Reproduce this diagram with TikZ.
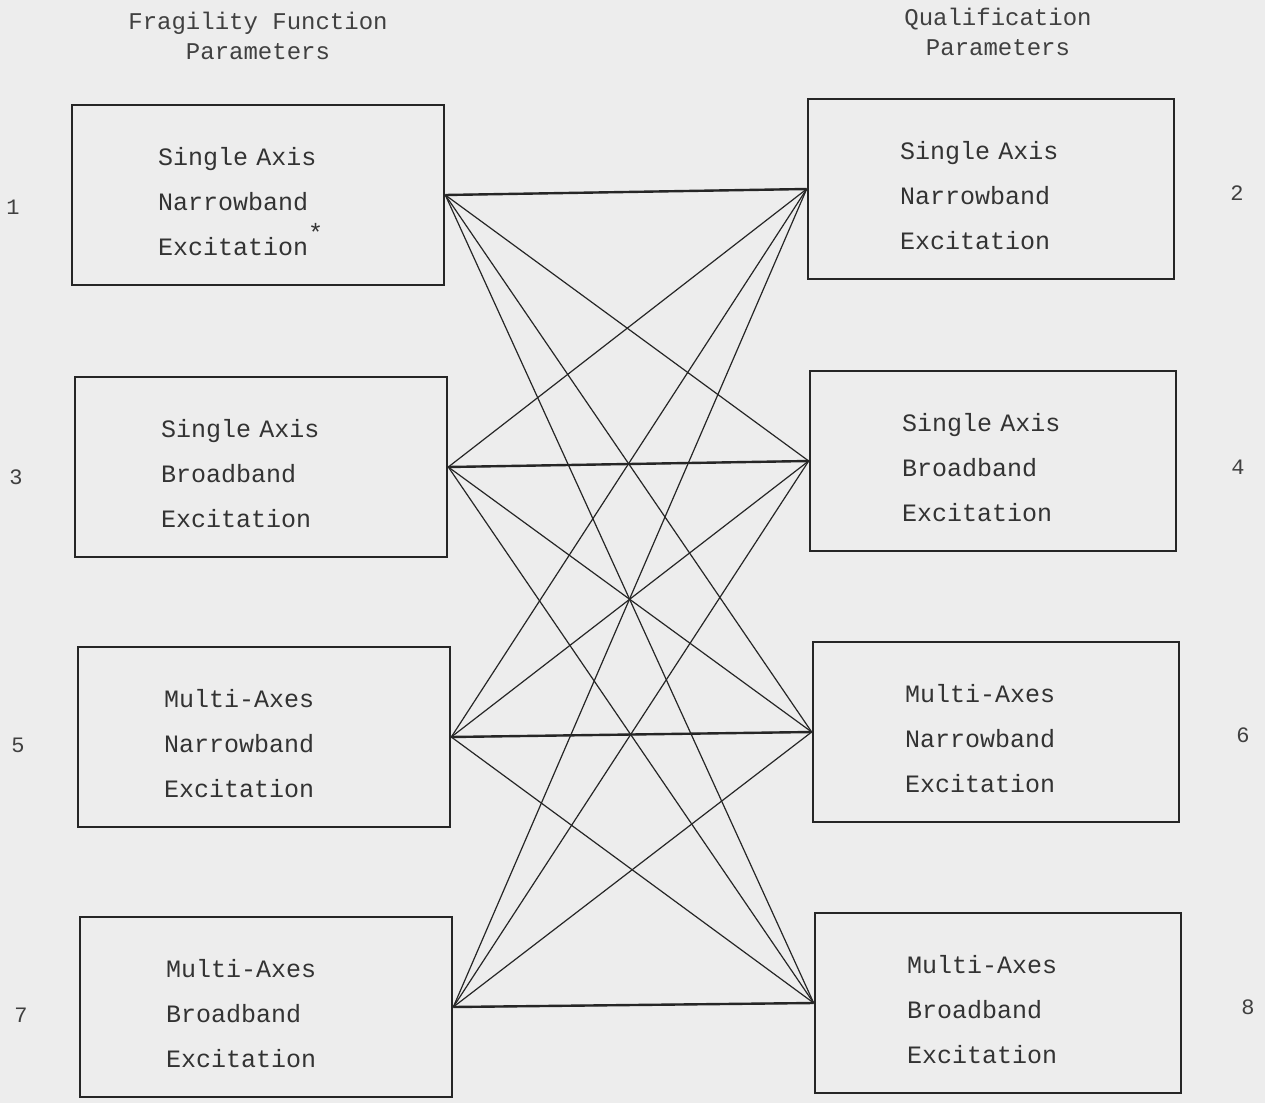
\documentclass[tikz,border=0pt]{standalone}
\usepackage{fontspec}
\setmonofont{Liberation Mono}
\newcommand{\bxstrut}{\rule{0pt}{16pt}}
\begin{document}
\begin{tikzpicture}[x=0.5pt,y=-0.5pt,
  box/.style={draw=black!85,line width=1.3pt,rectangle,minimum width=186pt,minimum height=90pt,
    text width=100pt,align=left,inner sep=0pt,text=black!80,
    font=\ttfamily\fontsize{12.5}{22.5}\selectfont},
  rbox/.style={box,minimum width=183pt,text width=91pt},
  lbl/.style={text=black!75,font=\ttfamily\fontsize{11}{13}\selectfont},
  hdr/.style={text=black!75,align=center,font=\ttfamily\fontsize{12}{15}\selectfont},
  hline/.style={draw=black!85,line width=1.2pt},
  dline/.style={draw=black!85,line width=0.6pt}]
\fill[black!7] (0,0) rectangle (1265,1103);
\useasboundingbox (0,0) rectangle (1265,1103);
% headers
\node[hdr] (hl) at (258,36) {Fragility Function\\Parameters};
\node[hdr] (hr) at (998,32) {Qualification\\Parameters};
% left boxes
\node[box] (b1) at (258,195) {\bxstrut Single Axis\\Narrowband\\Excitation\raisebox{7pt}{*}};
\node[box] (b3) at (261,467) {\bxstrut Single Axis\\Broadband\\Excitation};
\node[box] (b5) at (264,737) {\bxstrut Multi-Axes\\Narrowband\\Excitation};
\node[box] (b7) at (266,1007) {\bxstrut Multi-Axes\\Broadband\\Excitation};
% right boxes
\node[rbox] (b2) at (991,189) {\bxstrut Single Axis\\Narrowband\\Excitation};
\node[rbox] (b4) at (993,461) {\bxstrut Single Axis\\Broadband\\Excitation};
\node[rbox] (b6) at (996,732) {\bxstrut Multi-Axes\\Narrowband\\Excitation};
\node[rbox] (b8) at (998,1003) {\bxstrut Multi-Axes\\Broadband\\Excitation};
% numbers
\node[lbl] (n1) at (13,207) {1};
\node[lbl] (n3) at (16,477) {3};
\node[lbl] (n5) at (18,745) {5};
\node[lbl] (n7) at (21,1015) {7};
\node[lbl] (n2) at (1237,193) {2};
\node[lbl] (n4) at (1238,467) {4};
\node[lbl] (n6) at (1243,735) {6};
\node[lbl] (n8) at (1248,1007) {8};
% connectors
\draw[hline] (b1.east) -- (b2.west);
\draw[hline] (b3.east) -- (b4.west);
\draw[hline] (b5.east) -- (b6.west);
\draw[hline] (b7.east) -- (b8.west);
\foreach \a in {b1,b3,b5,b7}{
  \foreach \b in {b2,b4,b6,b8}{
    \draw[dline] (\a.east) -- (\b.west);
  }
}
\end{tikzpicture}
\end{document}
